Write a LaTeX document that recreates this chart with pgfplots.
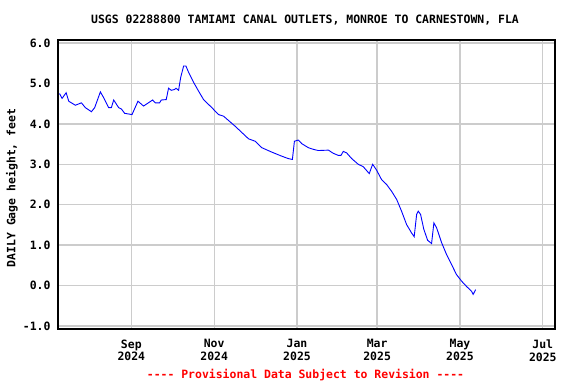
\documentclass[border=0pt]{standalone}
\usepackage{pgfplots}
\pgfplotsset{compat=1.18}
\usepackage{fontspec}
\setmainfont{DejaVu Sans Mono}
\pgfplotstableread{
day val
-52.9 4.75
-51.0 4.63
-48.0 4.77
-46.1 4.56
-41.2 4.46
-36.8 4.52
-33.8 4.40
-29.4 4.30
-27.0 4.40
-22.8 4.79
-20.4 4.65
-16.7 4.40
-14.7 4.40
-13.0 4.59
-9.3 4.40
-7.4 4.37
-4.9 4.26
0.5 4.23
4.9 4.56
9.0 4.44
15.7 4.59
17.6 4.52
20.8 4.52
22.1 4.59
25.7 4.60
27.4 4.88
29.4 4.83
31.8 4.85
32.9 4.88
34.8 4.83
36.3 5.14
38.5 5.43
40.2 5.43
42.1 5.28
45.8 5.03
49.5 4.81
53.2 4.60
59.3 4.40
64.2 4.23
67.9 4.19
76.5 3.94
86.3 3.63
91.2 3.57
96.1 3.41
103.5 3.30
110.8 3.20
115.7 3.14
118.6 3.12
120.1 3.57
123.0 3.60
125.5 3.51
130.4 3.41
134.0 3.37
137.7 3.34
145.1 3.35
148.8 3.27
152.4 3.22
154.4 3.22
156.1 3.32
158.6 3.28
162.3 3.14
167.1 3.00
170.8 2.94
175.2 2.77
177.7 3.00
180.7 2.85
184.3 2.62
188.0 2.50
191.7 2.33
195.4 2.13
199.0 1.84
202.7 1.51
206.4 1.30
208.3 1.21
210.1 1.76
211.3 1.84
213.0 1.76
215.4 1.39
218.2 1.12
221.1 1.04
222.8 1.55
224.8 1.43
228.5 1.06
232.1 0.77
235.8 0.52
239.5 0.27
243.2 0.11
246.8 -0.02
250.5 -0.14
251.7 -0.22
253.5 -0.10
}\gage
\begin{document}
\begin{tikzpicture}[x=1bp,y=1bp]
\path (0,0) rectangle (576,384);
\begin{axis}[
  at={(58bp,55bp)}, anchor=south west,
  scale only axis, width=497bp, height=289bp,
  xmin=-54, xmax=312, ymin=-1.074, ymax=6.074,
  xtick={0,61,122,181,242,303},
  xticklabels={Sep\\2024,Nov\\2024,Jan\\2025,Mar\\2025,May\\2025,Jul\\2025},
  ytick={-1,0,...,6},
  yticklabel style={/pgf/number format/fixed,/pgf/number format/fixed zerofill,/pgf/number format/precision=1,/pgf/number format/assume math mode=true, xshift=-4bp},
  tick label style={font=\fontsize{11.5}{13}\selectfont\bfseries},
  xticklabel style={align=center, yshift=-7bp},
  grid=major,
  major grid style={color=black!20, line width=1.3bp},
  axis line style={line width=1.6bp},
  major tick length=0pt,
  clip=true,
]
\addplot[blue, line width=0.9bp, mark=none] table[x=day,y=val] {\gage};
\end{axis}
\node[font=\fontsize{11.5}{13}\selectfont\bfseries] at (305,364) {USGS 02288800 TAMIAMI CANAL OUTLETS, MONROE TO CARNESTOWN, FLA};
\node[rotate=90, font=\fontsize{11.5}{13}\selectfont\bfseries] at (12,196) {DAILY Gage height, feet};
\node[red, font=\fontsize{11.5}{13}\selectfont\bfseries] at (305.5,9) {{-}{-}{-}{-} Provisional Data Subject to Revision {-}{-}{-}{-}};
\end{tikzpicture}
\end{document}
